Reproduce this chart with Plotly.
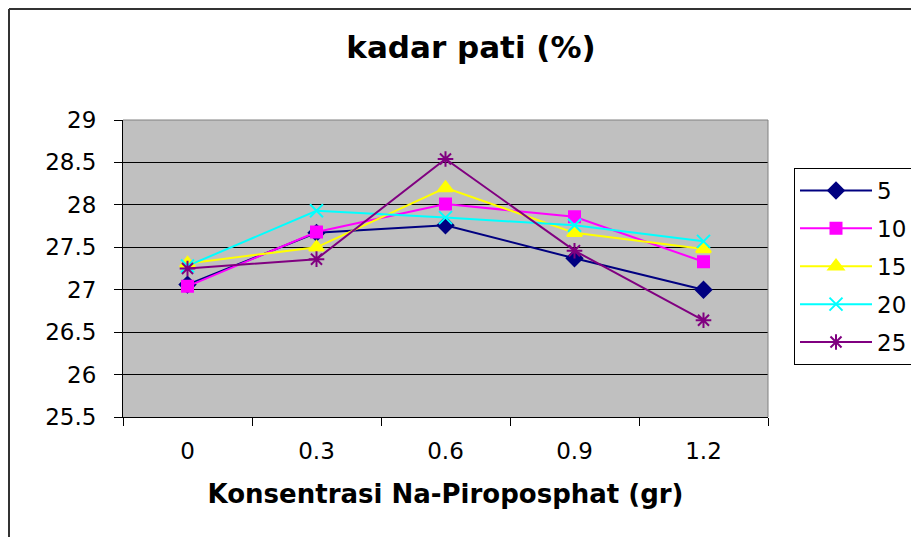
import plotly.graph_objects as go

categories = ["0", "0.3", "0.6", "0.9", "1.2"]
series_names = ["5", "10", "15", "20", "25"]
s5 = [27.06, 27.67, 27.76, 27.37, 27.00]
s10 = [27.04, 27.68, 28.01, 27.86, 27.33]
s15 = [27.31, 27.50, 28.20, 27.67, 27.48]
s20 = [27.28, 27.93, 27.85, 27.76, 27.57]
s25 = [27.25, 27.36, 28.54, 27.46, 26.64]
y_ticks = [25.5, 26, 26.5, 27, 27.5, 28, 28.5, 29]

values = [s5, s10, s15, s20, s25]
colors = ["#000080", "#FF00FF", "#FFFF00", "#00FFFF", "#800080"]
symbols = ["diamond", "square", "triangle-up", "x-thin-open", "asterisk-open"]
sizes = [12, 11, 13, 13, 13]

FONT = "DejaVu Sans, sans-serif"

fig = go.Figure()
for name, vals, c, sym, sz in zip(series_names, values, colors, symbols, sizes):
    fig.add_trace(go.Scatter(
        x=categories, y=vals, name=name, mode="lines+markers",
        legendgroup=name,
        line=dict(color=c, width=2),
        marker=dict(symbol=sym, size=sz, color=c, line=dict(color=c, width=2)),
    ))

# page has an 8px body margin; work in page coordinates and convert
O = 8
PW, PH = 919, 537
W, H = PW - O, PH - O
L, R, T, B = 123 - O, 768 - O, 120 - O, 417 - O   # plot area in figure coords
pw, ph = R - L, B - T

def px(x_page):
    return (x_page - O - L) / pw

def py(y_page):
    return (B - (y_page - O)) / ph

fig.update_layout(
    width=W, height=H,
    margin=dict(l=L, r=W - R, t=T, b=H - B, pad=0, autoexpand=False),
    paper_bgcolor="white",
    plot_bgcolor="#C0C0C0",
    font=dict(family=FONT, size=23, color="black"),
    title=dict(text="<b>kadar pati (%)</b>", x=(471 - O) / W, xanchor="center",
               y=1 - (47 - O) / H, yanchor="middle",
               font=dict(family=FONT, size=31, color="black")),
    showlegend=True,
    legend=dict(
        x=px(794), y=py(168), xanchor="left", yanchor="top",
        bordercolor="black", borderwidth=1, bgcolor="white",
        font=dict(family=FONT, size=23, color="black"),
        itemwidth=72, tracegroupgap=5,
        entrywidth=140, entrywidthmode="pixels",
    ),
    xaxis=dict(
        type="category", range=[-0.5, 4.5],
        tickson="boundaries", ticks="outside", ticklen=8, tickcolor="black",
        showline=True, linecolor="black", linewidth=1, mirror=False,
        showgrid=False, zeroline=False,
        tickfont=dict(family=FONT, size=23),
        ticklabelstandoff=13,
        title=dict(text="<b>Konsentrasi Na-Piroposphat (gr)</b>",
                   font=dict(family=FONT, size=26), standoff=22),
    ),
    yaxis=dict(
        range=[25.5, 29], tickvals=y_ticks,
        ticktext=[f"{v:g}" for v in y_ticks],
        ticks="outside", ticklen=8, tickcolor="black",
        showline=True, linecolor="black", linewidth=1,
        showgrid=True, gridcolor="black", gridwidth=1,
        zeroline=False,
        tickfont=dict(family=FONT, size=23),
        ticklabelstandoff=13,
    ),
    shapes=[
        dict(type="line", xref="paper", yref="paper", x0=0, x1=1, y0=1, y1=1,
             line=dict(color="#808080", width=1)),
        dict(type="line", xref="paper", yref="paper", x0=1, x1=1, y0=0, y1=1,
             line=dict(color="#808080", width=1)),
        # outer chart border (left + top), as close to the page edge as possible
        dict(type="line", xref="paper", yref="paper", x0=px(O + 1), x1=px(O + 1),
             y0=py(PH + 5), y1=py(O + 1), line=dict(color="#333333", width=2)),
        dict(type="line", xref="paper", yref="paper", x0=px(O + 1), x1=px(PW + 5),
             y0=py(O + 1), y1=py(O + 1), line=dict(color="#333333", width=2)),
    ],
)

fig.write_html("out.html")
